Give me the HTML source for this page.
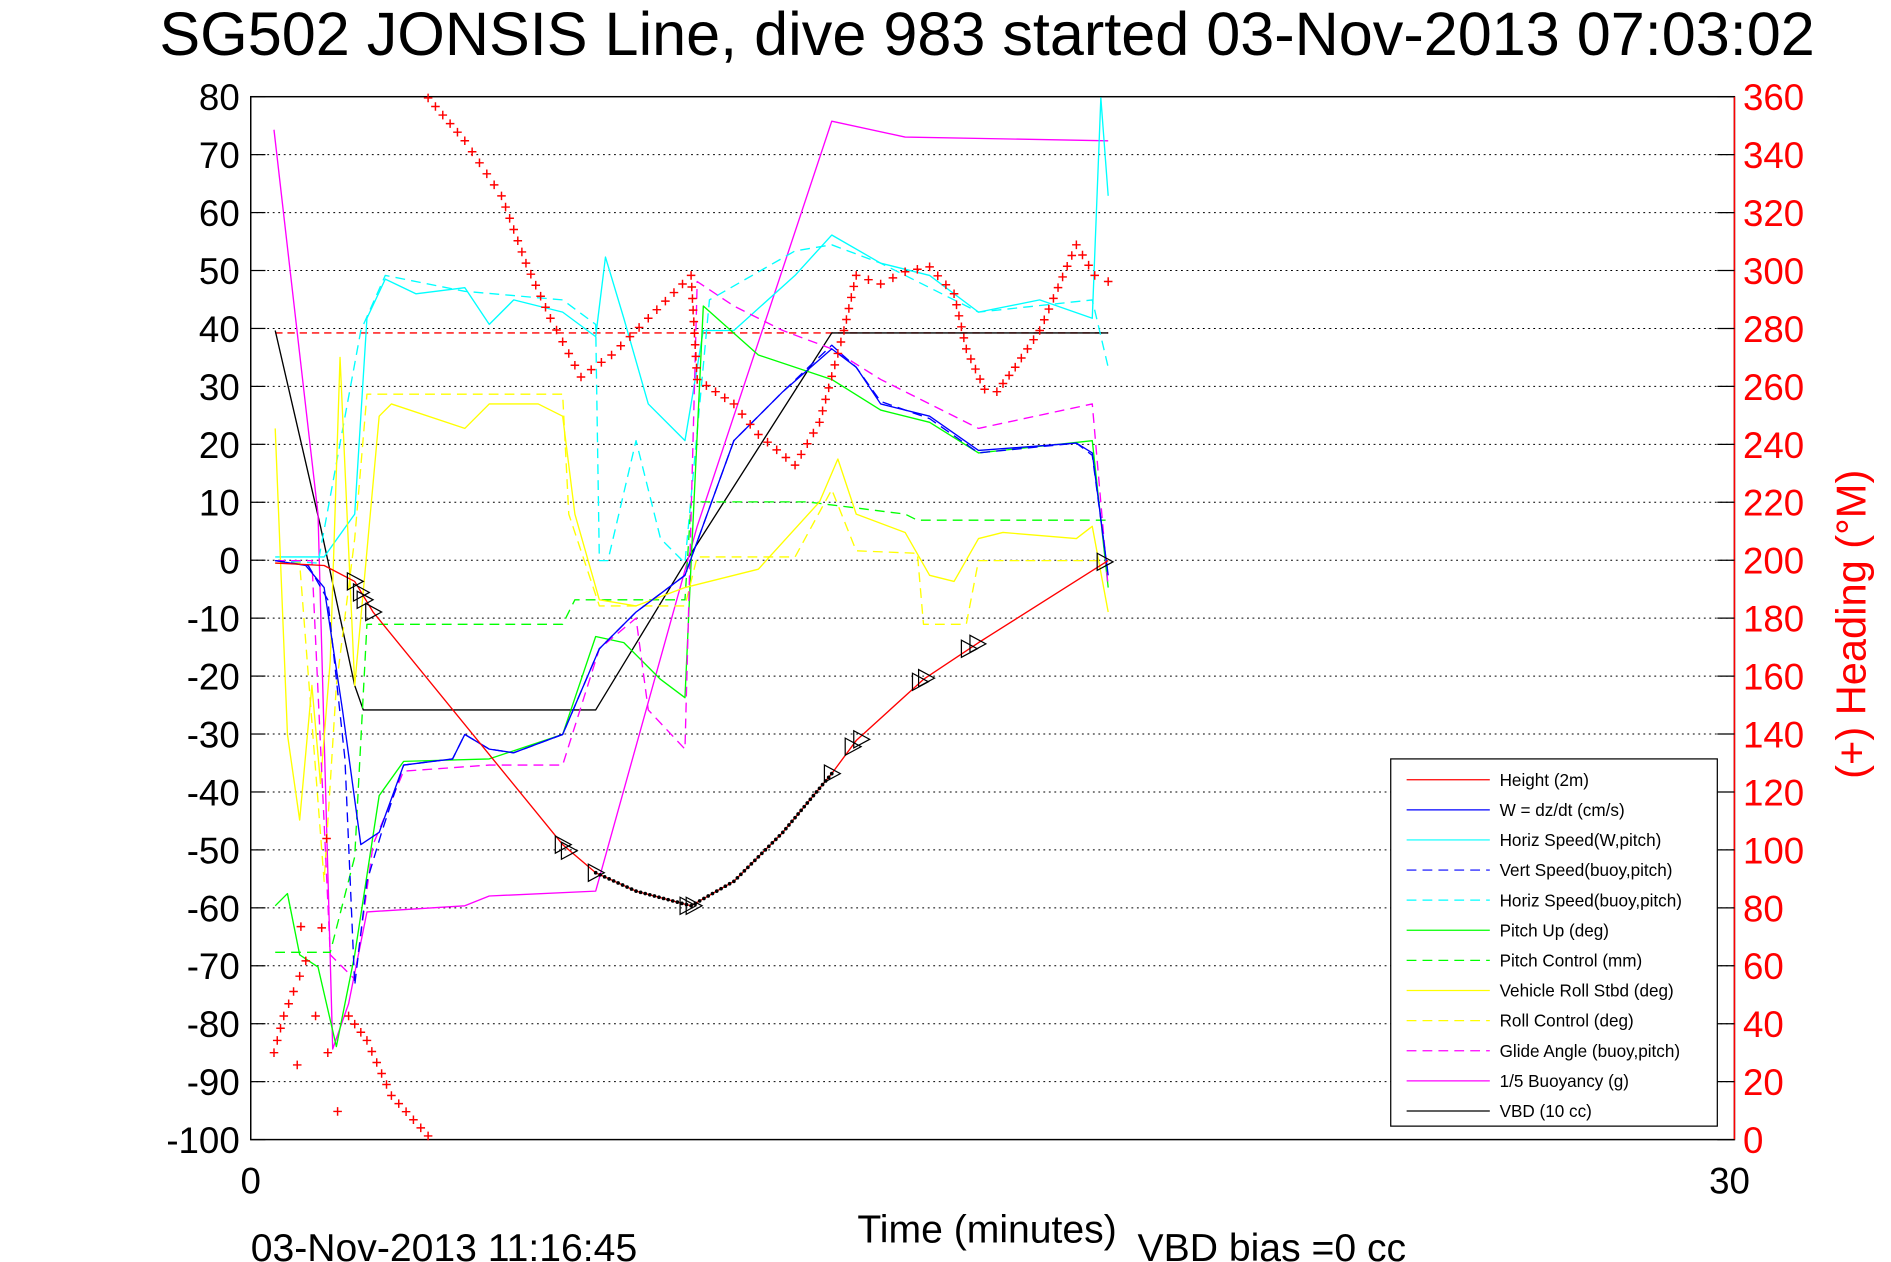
<!DOCTYPE html>
<html><head><meta charset="utf-8"><style>
html,body{margin:0;padding:0;background:#fff;}
svg{display:block;}
text{font-family:"Liberation Sans",sans-serif;}
</style></head><body>
<svg id="s" width="1891" height="1262" viewBox="0 0 1546 1031" preserveAspectRatio="none" xmlns="http://www.w3.org/2000/svg">
<rect width="1546" height="1031" fill="#fff"/>
<text x="807" y="45" font-size="50" text-anchor="middle">SG502 JONSIS Line, dive 983 started 03-Nov-2013 07:03:02</text>
<g id="grid"></g>
<rect x="205" y="79" width="1213" height="852" fill="none" stroke="#000" stroke-width="1.2"/>
<line x1="1418" y1="79" x2="1418" y2="931" stroke="#f00" stroke-width="1.2"/>
<g id="ticks"></g>
<g fill="none" stroke-width="1.1" stroke-linejoin="round">
<polyline stroke="#f00" stroke-dasharray="6,4" points="225,272 906,272"/>
<polyline stroke="#000" points="225,270 262,430 290,560 297,580 487,580 560,460 680,272 906,272"/>
<polyline stroke="#f0f" points="224,106 260,420 272,857 285,820 300,745 380,740 400,732 487,728 570,430 680,99 740,112 906,115"/>
<polyline stroke="#0ff" stroke-dasharray="8,5" points="225,458 260,460 295,270 315,225 380,238 460,245 487,265 490,458 497,458 520,360 540,440 560,460 580,245 650,205 680,200 720,215 800,255 893,245 906,300"/>
<polyline stroke="#0ff" points="225,455 265,455 290,420 300,260 315,228 340,240 380,235 400,265 420,245 460,255 487,275 495,210 510,260 530,330 560,360 575,270 600,270 650,225 680,192 720,215 760,225 800,255 850,245 893,260 900,80 906,160"/>
<polyline stroke="#0f0" stroke-dasharray="8,5" points="225,778 270,778 290,700 300,510 460,510 470,490 560,490 565,410 660,410 740,420 750,425 906,425"/>
<polyline stroke="#0f0" points="225,740 235,730 245,780 260,790 275,855 290,780 310,650 330,622 400,620 460,600 487,520 510,525 540,555 560,570 565,460 575,250 620,290 680,310 720,335 760,345 800,370 893,360 906,480"/>
<polyline stroke="#ff0" stroke-dasharray="8,5" points="225,460 245,460 265,720 275,560 290,440 300,322 460,322 465,420 490,495 560,495 570,455 650,455 680,400 700,450 750,452 755,510 790,510 800,458 906,458"/>
<polyline stroke="#ff0" points="225,350 235,600 245,670 255,560 262,640 270,540 278,292 290,560 310,340 320,330 380,350 400,330 440,330 460,340 470,420 490,490 520,495 560,480 620,465 670,410 685,375 700,420 740,435 760,470 780,475 800,440 820,435 880,440 893,430 906,500"/>
<polyline stroke="#f0f" stroke-dasharray="8,5" points="225,458 255,458 270,780 290,800 305,690 330,630 400,625 460,625 490,530 520,505 530,580 560,612 570,230 600,250 640,270 680,285 720,310 760,330 800,350 893,330 906,480"/>
<polyline stroke="#00f" stroke-dasharray="8,5" points="225,458 252,462 268,490 282,620 290,805 300,720 312,680 330,625 370,620 380,600 400,612 420,615 460,600 490,530 520,500 560,470 600,360 640,320 680,282 700,300 720,328 760,342 800,370 880,362 893,372 906,470"/>
<polyline stroke="#00f" points="225,458 250,462 265,480 280,580 295,690 310,680 330,625 370,620 380,600 400,612 420,615 460,600 490,530 520,500 560,470 600,360 640,320 680,285 700,300 720,330 760,340 800,368 880,362 893,370 906,470"/>
<polyline stroke="#f00" points="225,460 265,462 290,475 305,500 460,690 487,713 520,728 565,740 600,720 640,680 680,632 700,605 755,555 800,525 906,458"/>
</g>
<g id="dots"></g>
<g id="tri" fill="none" stroke="#000" stroke-width="1"></g>
<g id="plus" stroke="#f00" stroke-width="1.2"></g>
<g>
<rect x="1137" y="620" width="267" height="300" fill="#fff" stroke="#000"/>
<g id="leg" font-size="14"></g>
</g>
<text x="205" y="975" font-size="30" text-anchor="middle">0</text>
<text x="1414" y="975" font-size="30" text-anchor="middle">30</text>
<text x="807" y="1015" font-size="32" text-anchor="middle">Time (minutes)</text>
<text x="205" y="1030" font-size="32">03-Nov-2013 11:16:45</text>
<text x="930" y="1030" font-size="32">VBD bias =0 cc</text>
<text transform="translate(1525,510) rotate(-90)" font-size="34" fill="#f00" text-anchor="middle">(+) Heading (°M)</text>
</svg>
<script>
const NS="http://www.w3.org/2000/svg";
function el(p,t,a,txt){const e=document.createElementNS(NS,t);for(const k in a)e.setAttribute(k,a[k]);if(txt!==undefined)e.textContent=txt;document.getElementById(p).appendChild(e);return e;}
for(let i=0;i<19;i++){
 const y=79+i*852/18, v=80-i*10, h=360-i*20;
 if(i>0&&i<18) el("grid","line",{x1:205,x2:1418,y1:y,y2:y,stroke:"#000","stroke-width":0.8,"stroke-dasharray":"1.5,3"});
 el("ticks","line",{x1:205,x2:217,y1:y,y2:y,stroke:"#000"});
 el("ticks","line",{x1:1404,x2:1418,y1:y,y2:y,stroke:"#000"});
 el("ticks","text",{x:196,y:y+11,"font-size":30,"text-anchor":"end"},String(v));
 el("ticks","text",{x:1425,y:y+11,"font-size":30,fill:"#f00"},String(h));
}
const leg=[["#f00","","Height (2m)"],["#00f","","W = dz/dt (cm/s)"],["#0ff","","Horiz Speed(W,pitch)"],["#00f","8,5","Vert Speed(buoy,pitch)"],["#0ff","8,5","Horiz Speed(buoy,pitch)"],["#0f0","","Pitch Up (deg)"],["#0f0","8,5","Pitch Control (mm)"],["#ff0","","Vehicle Roll Stbd (deg)"],["#ff0","8,5","Roll Control (deg)"],["#f0f","8,5","Glide Angle (buoy,pitch)"],["#f0f","","1/5 Buoyancy (g)"],["#000","","VBD (10 cc)"]];
leg.forEach((l,i)=>{const y=637+i*24.6;
 el("leg","line",{x1:1150,x2:1218,y1:y,y2:y,stroke:l[0],"stroke-dasharray":l[1]});
 el("leg","text",{x:1226,y:y+5},l[2]);});
function samp(pts,step){const out=[];for(let i=0;i<pts.length-1;i++){const[a,b]=pts[i],[c,d]=pts[i+1];const L=Math.hypot(c-a,d-b);const n=Math.max(1,Math.round(L/step));for(let k=0;k<n;k++)out.push([a+(c-a)*k/n,b+(d-b)*k/n]);}out.push(pts[pts.length-1]);return out;}
samp([[487,713],[520,728],[565,740],[600,720],[640,680],[680,632]],4).forEach(p=>el("dots","circle",{cx:p[0],cy:p[1],r:1.5,fill:"#000"}));
[[290,475],[295,484],[298,490],[305,500],[460,690],[465,695],[487,713],[562,740],[567,740],[680,632],[697,610],[704,604],[752,557],[757,554],[792,530],[799,526],[903,459]].forEach(p=>{const[x,y]=p;el("tri","polygon",{points:`${x-6},${y-7} ${x+7},${y} ${x-6},${y+7}`});});
const hp=[[350,80],[380,115],[410,160],[430,215],[450,260],[475,308],[500,290],[530,260],[565,225],[570,310],[600,330],[620,355],[650,380],[670,345],[690,270],[700,225],[720,232],[740,222],[760,218],[780,240],[790,285],[805,318],[815,320],[830,300],[850,270],[880,200],[895,225],[906,230]];
const hp2=[[224,860],[232,830],[240,810],[250,785]];
const hp3=[[285,830],[300,850],[320,895],[350,928]];
samp(hp,10).concat(samp(hp2,12)).concat(samp(hp3,9)).concat([[246,757],[263,758],[267,685],[276,908],[268,860],[258,830],[243,870]]).forEach(p=>{const[x,y]=p;el("plus","path",{d:`M${x-3.5},${y}H${x+3.5}M${x},${y-3.5}V${y+3.5}`});});
</script>
</body></html>
